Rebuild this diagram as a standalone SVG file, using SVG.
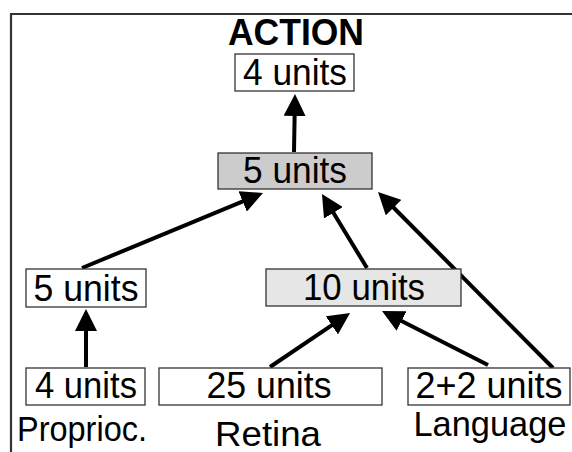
<svg xmlns="http://www.w3.org/2000/svg" width="572" height="452" viewBox="0 0 572 452">
<style>
.box{stroke:#333;stroke-width:1.3}
.w{fill:#fff}
.g1{fill:#cccccc}
.g2{fill:#e6e6e6}
text{font-family:"Liberation Sans",Arial,sans-serif;font-size:36px;fill:#000;text-anchor:middle}
.t{font-weight:bold;font-size:36px}
.l{font-size:35px}
.c line{stroke:#000;stroke-width:4;marker-end:url(#ah)}
</style>
<defs>
<marker id="ah" markerUnits="userSpaceOnUse" markerWidth="22" markerHeight="22" refX="10" refY="11" orient="auto" viewBox="0 0 22 22">
<path d="M0,0 L22,11 L0,22 Z" fill="#000"/>
</marker>
</defs>
<rect x="0" y="0" width="572" height="452" fill="#fff"/>
<path d="M11,452 V14 H572" fill="none" stroke="#333" stroke-width="2.2"/>
<text class="t" x="296" y="45" textLength="136" lengthAdjust="spacingAndGlyphs">ACTION</text>
<g class="c">
<line x1="294" y1="152" x2="294.8" y2="106"/>
<line x1="82" y1="268" x2="251.9" y2="197.6"/>
<line x1="367" y1="268" x2="328.2" y2="204.3"/>
<line x1="553" y1="368" x2="386.5" y2="200.5"/>
<line x1="86" y1="367" x2="86" y2="321"/>
<line x1="270" y1="367" x2="340.1" y2="319.7"/>
<line x1="488" y1="365" x2="392.7" y2="316.5"/>
</g>
<g id="n_action"><rect class="box w" x="235" y="54" width="119" height="37"/><text x="295" y="85" textLength="104" lengthAdjust="spacingAndGlyphs">4 units</text></g>
<g id="n_mid"><rect class="box g1" x="218" y="153" width="154" height="36"/><text x="295" y="183" textLength="104" lengthAdjust="spacingAndGlyphs">5 units</text></g>
<g id="n_prop5"><rect class="box w" x="26" y="269" width="120" height="38"/><text x="86" y="301" textLength="105" lengthAdjust="spacingAndGlyphs">5 units</text></g>
<g id="n_vis10"><rect class="box g2" x="266" y="269" width="195" height="37"/><text x="364" y="300" textLength="122" lengthAdjust="spacingAndGlyphs">10 units</text></g>
<g id="n_prop4"><rect class="box w" x="26" y="368" width="119" height="37"/><text x="86" y="398" textLength="102" lengthAdjust="spacingAndGlyphs">4 units</text></g>
<g id="n_ret"><rect class="box w" x="159" y="368" width="223" height="37"/><text x="269" y="398" textLength="125" lengthAdjust="spacingAndGlyphs">25 units</text></g>
<g id="n_lang"><rect class="box w" x="408" y="368" width="162" height="37"/><text x="489" y="398" textLength="147" lengthAdjust="spacingAndGlyphs">2+2 units</text></g>
<text class="l" x="82" y="441" textLength="130" lengthAdjust="spacingAndGlyphs">Proprioc.</text>
<text class="l" x="268" y="446" textLength="106" lengthAdjust="spacingAndGlyphs">Retina</text>
<text class="l" x="490" y="436" textLength="153" lengthAdjust="spacingAndGlyphs">Language</text>
</svg>
